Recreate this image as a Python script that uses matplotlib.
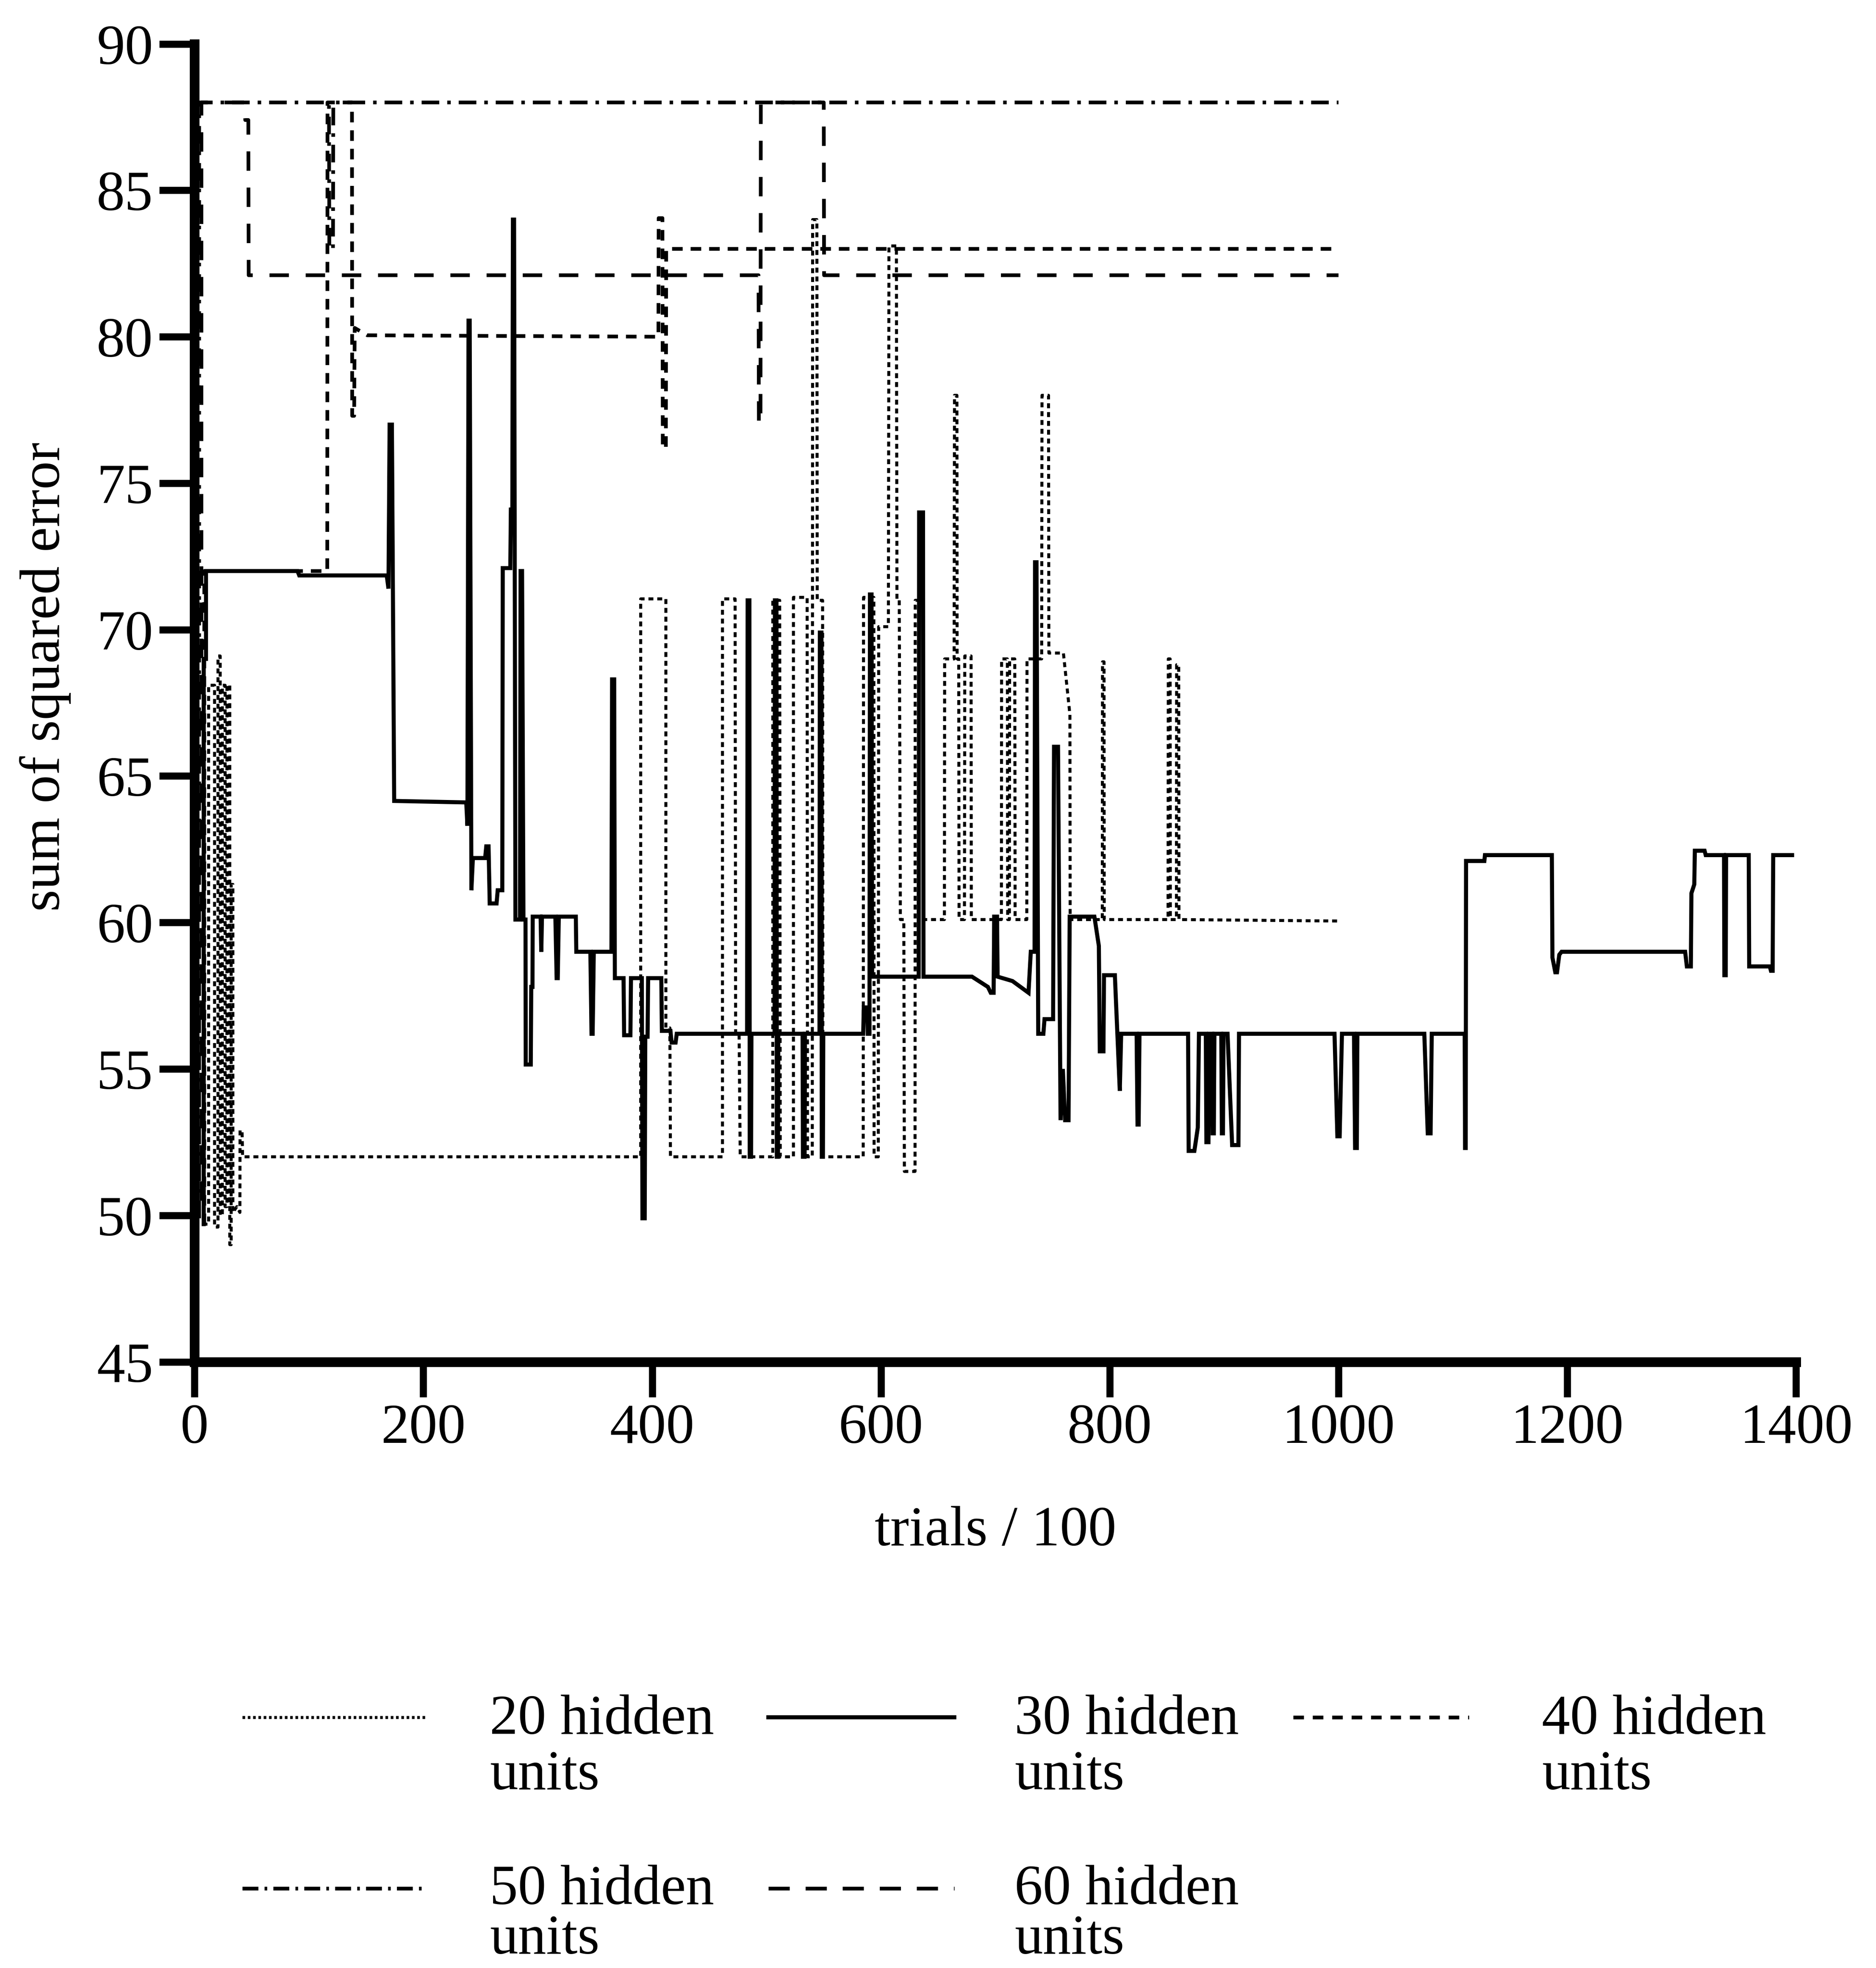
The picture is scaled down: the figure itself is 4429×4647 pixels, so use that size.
import matplotlib
matplotlib.use("Agg")
import matplotlib.pyplot as plt
from matplotlib.lines import Line2D

plt.rcParams['font.family'] = ['Liberation Serif', 'DejaVu Serif']
plt.rcParams['lines.scale_dashes'] = False

# ---------------- data ----------------
x_ticks = [0, 200, 400, 600, 800, 1000, 1200, 1400]
y_ticks = [45, 50, 55, 60, 65, 70, 75, 80, 85, 90]

x20 = [3, 3, 7.5, 7.5, 12.3, 12.3, 17.5, 17.5, 20.5, 20.5, 22.4, 22.4, 24.3, 24.3, 26.7, 26.7,
       28.3, 28.3, 30.8, 30.8, 32.0, 32.0, 33.5, 33.5, 37, 39.6, 39.8, 41.5, 42,
       390, 390, 412, 412, 415.5, 416,
       461.5, 461.5, 472.5, 473, 476, 477,
       505.5, 505.5, 511.5, 512,
       523.5, 523.5, 535.5, 535.8,
       540, 540.3, 544, 544.3, 549, 549.3,
       584.5, 584.8, 593.8, 594,
       597.7, 598, 606.5, 607, 613.5, 614, 616, 617, 620, 620.5, 629.8, 630, 632.8, 633,
       655.5, 655.7, 664, 664.3, 666.4, 666.6, 668, 668.3,
       673, 673.3, 678.8, 679,
       705.3, 705.5, 710.5, 710.8, 712.3, 712.5, 717, 717.3,
       727.5, 727.7, 740.5, 740.8, 746.5, 746.8, 759.5, 765.2, 765.4,
       793.5, 793.7, 795, 795.2,
       851, 851.2, 852.8, 853,
       858.3, 858.5, 860.3, 860.5,
       1000]
y20 = [49.7, 68.0, 68.0, 49.7, 49.7, 68.1, 68.1, 49.6, 49.6, 69.1, 69.1, 50.0, 50.0, 68.1, 68.1, 50.3,
       50.3, 68.1, 68.1, 49.0, 49.0, 61.3, 61.3, 50.1, 50.3, 50.1, 52.9, 52.9, 52.0,
       52.0, 71.05, 71.05, 56.4, 56.4, 52.0,
       52.0, 71.05, 71.05, 56.2, 56.2, 52.0,
       52.0, 71.0, 71.0, 52.0,
       52.0, 71.1, 71.1, 52.0,
       52.0, 84.0, 84.0, 71.0, 71.0, 52.0,
       52.0, 71.1, 71.1, 52.0,
       52.0, 70.1, 70.1, 83.1, 83.1, 71.0, 71.0, 60.1, 60.1, 51.5, 51.5, 71.0, 71.0, 60.1,
       60.1, 69.0, 69.0, 78.0, 78.0, 69.0, 69.0, 60.1,
       60.1, 69.1, 69.1, 60.1,
       60.1, 69.0, 69.0, 60.1, 60.1, 69.0, 69.0, 60.1,
       60.1, 69.0, 69.0, 78.0, 78.0, 69.2, 69.2, 67.1, 60.1,
       60.1, 68.9, 68.9, 60.1,
       60.1, 69.0, 69.0, 60.1,
       60.1, 68.8, 68.8, 60.1,
       60.05]

x30 = [8, 8, 10, 10, 90, 91.5, 168, 169.5, 170.5, 172.5, 174.5, 237.5, 238.5, 239.5, 240.5,
       242, 243.3, 254, 255, 257, 258, 264, 265, 269, 269.4, 276, 276.5, 277.8, 278.3, 279.3,
       280.5, 284.5, 285, 286.3, 287.5, 289.3, 289.5, 293.9, 294.3, 295.4, 295.6, 302.5, 303.1,
       303.7, 315.4, 316.5, 317.5, 318.4, 333.3, 333.7, 346, 347, 348, 349, 364.4, 365, 366.8,
       367.4, 375, 375.5, 381, 381.5, 391, 391.5, 393.5, 394, 396, 396.5, 408, 408.5, 416, 417,
       420.5, 421.5, 483, 483.5, 485, 485.3, 486.5, 486.8, 507, 507.3, 508.7, 509, 510, 510.3,
       531.5, 531.8, 533.3, 533.6, 546.3, 546.6, 548, 548.3, 549.3, 549.6, 584.5, 585, 588, 588.5,
       590, 590.4, 591.8, 592.3, 633, 633.4, 636.8, 637.2, 679.6, 693.5, 696, 698.5, 699, 701.5,
       702, 715, 729, 731, 734.3, 734.7, 736, 737.5, 742, 743, 750.5, 751.3, 754.8, 757, 759,
       761, 764, 765, 786.6, 790.5, 791.3, 794.5, 795, 804.5, 808.8, 810, 823.5, 824.3, 825.3,
       826, 868.5, 869, 874, 877, 878, 884, 884.5, 886.3, 887, 889.5, 890, 891, 891.5, 897.5,
       898, 899, 899.5, 903, 907, 912.5, 913, 996.5, 999, 1001, 1003, 1013.5, 1014.5, 1016,
       1016.5, 1075, 1078, 1080.5, 1081.5, 1110.3, 1110.6, 1111.2, 1111.5, 1127.5, 1128, 1186.5,
       1187, 1189.5, 1191, 1193, 1195, 1303, 1304.5, 1308, 1308.5, 1311, 1311.5, 1320, 1321,
       1337, 1337.3, 1338.5, 1338.8, 1358.6, 1359, 1377, 1378, 1379.5, 1380, 1396.5]
y30 = [49.7, 69.0, 69.0, 72.0, 72.0, 71.85, 71.85, 71.4, 77.0, 77.0, 64.15, 64.1, 63.3, 80.55, 80.55,
       61.1, 62.2, 62.2, 62.6, 62.6, 60.65, 60.65, 61.1, 61.1, 72.1, 72.1, 74.1, 74.1, 84.0, 84.0,
       60.1, 60.1, 72.0, 72.0, 60.1, 60.1, 55.15, 55.15, 57.8, 57.8, 60.2, 60.2, 59.0,
       60.2, 60.2, 58.1, 58.1, 60.2, 60.2, 59.0, 59.0, 56.2, 56.2, 59.0, 59.0, 68.3, 68.3,
       58.1, 58.1, 56.15, 56.15, 58.1, 58.1, 49.9, 49.9, 56.1, 56.1, 58.1, 58.1, 56.3, 56.3, 55.9,
       55.9, 56.2, 56.2, 71.0, 71.0, 52.0, 52.0, 56.2, 56.2, 71.0, 71.0, 52.0, 52.0, 56.2,
       56.2, 52.0, 52.0, 56.2, 56.2, 69.9, 69.9, 52.0, 52.0, 56.2, 56.2, 57.1, 57.1, 56.2,
       56.2, 71.2, 71.2, 58.15, 58.15, 74.0, 74.0, 58.15, 58.15, 57.8, 57.6, 57.6, 60.2, 60.2,
       58.15, 58.0, 57.6, 59.0, 59.0, 72.3, 72.3, 56.2, 56.2, 56.7, 56.7, 66.0, 66.0, 53.25, 55.0,
       53.25, 53.25, 60.2, 60.2, 59.2, 55.6, 55.6, 58.2, 58.2, 54.25, 56.2, 56.2, 53.1, 53.1,
       56.2, 56.2, 52.2, 52.2, 53.0, 56.2, 56.2, 52.5, 52.5, 56.2, 56.2, 52.8, 52.8, 56.2, 56.2,
       52.8, 52.8, 56.2, 56.2, 52.4, 52.4, 56.2, 56.2, 52.7, 52.7, 56.2, 56.2, 52.3, 52.3,
       56.2, 56.2, 52.8, 52.8, 56.2, 56.2, 52.3, 52.3, 62.1, 62.1, 62.3, 62.3,
       58.8, 58.3, 58.3, 58.9, 59.0, 59.0, 58.5, 58.5, 61.0, 61.3, 62.45, 62.45, 62.3,
       62.3, 58.2, 58.2, 62.3, 62.3, 58.5, 58.5, 58.35, 58.35, 62.3, 62.3]

x40 = [8.5, 8.5, 116, 116.2, 137.6, 137.8, 139.5, 140, 151, 405.5, 405.7, 409, 409.3, 412, 412.3, 1000]
y40 = [49.7, 72.0, 72.0, 88.0, 88.0, 77.3, 77.3, 80.3, 80.05, 80.0, 84.05, 84.05, 76.2, 76.2, 83.0, 83.0]

x50 = [4, 4, 117.5, 117.8, 121, 121.3, 1000]
y50 = [49.9, 88.0, 88.0, 83.0, 83.0, 88.0, 88.0]

x60 = [6, 6, 44, 44.3, 47, 47.3, 493, 493.3, 494.7, 495, 550, 550.3, 1000]
y60 = [50.5, 88.0, 88.0, 87.4, 87.4, 82.1, 82.1, 77.0, 77.0, 88.0, 88.0, 82.1, 82.1]

series_labels = ["20 hidden\nunits", "30 hidden\nunits", "40 hidden\nunits",
                 "50 hidden\nunits", "60 hidden\nunits"]

# ---------------- styles ----------------
styles = [
    dict(lw=1.7, ls=(0, (2.8, 2.2))),          # 20 hidden: fine dotted
    dict(lw=2.3, ls='-'),                       # 30 hidden: solid
    dict(lw=2.1, ls=(0, (6.0, 4.5))),          # 40 hidden: short dashes
    dict(lw=2.1, ls=(0, (10, 4.5, 2, 4.5))),   # 50 hidden: dash-dot
    dict(lw=2.1, ls=(0, (11, 9.5))),           # 60 hidden: long dashes
]
legend_styles = [
    dict(lw=1.7, ls=(0, (1.5, 1.5))),
    dict(lw=2.3, ls='-'),
    dict(lw=2.1, ls=(0, (6.0, 5.0))),
    dict(lw=2.1, ls=(0, (9, 3.5, 1.5, 3.5))),
    dict(lw=2.1, ls=(0, (12, 9))),
]

W, H, DPI = 4429, 4647, 300
fig = plt.figure(figsize=((W + 0.5) / DPI, (H + 0.5) / DPI), dpi=DPI)
ax = fig.add_axes([0.1037, 0.308, 0.8536, 0.6696])

xs = [x20, x30, x40, x50, x60]
ys = [y20, y30, y40, y50, y60]
for x, y, st in zip(xs, ys, styles):
    ax.plot(x, y, color='black', linewidth=st['lw'], linestyle=st['ls'],
            dash_capstyle='butt', solid_joinstyle='miter')

ax.set_xlim(0, 1400)
ax.set_ylim(45, 90)
ax.set_xticks(x_ticks)
ax.set_yticks(y_ticks)
ax.set_xticklabels([str(v) for v in x_ticks])
ax.set_yticklabels([str(v) for v in y_ticks])
for s in ['top', 'right']:
    ax.spines[s].set_visible(False)
for s in ['left', 'bottom']:
    ax.spines[s].set_linewidth(5.5)
ax.tick_params(axis='both', direction='out', length=20, width=4.0, labelsize=32, pad=3.4,
               color='black', labelcolor='black')

ax.set_xlabel("trials / 100", fontsize=32)
ax.xaxis.label.set_va('center')
ax.xaxis.set_label_coords(0.5, -0.1286)
ax.set_ylabel("sum of squared error", fontsize=32)
ax.yaxis.label.set_va('center')
ax.yaxis.set_label_coords(-0.0932, 0.52)

# ---------------- legend (manual, two rows x three columns) ----------------
line_x = [(0.1292, 0.2275), (0.4096, 0.5087), (0.6893, 0.7830),
          (0.1292, 0.2275), (0.4096, 0.5087)]
line_y = [0.1274, 0.1274, 0.1274, 0.0405, 0.0405]
text_x = [0.2610, 0.5408, 0.8218, 0.2610, 0.5408]
text_y1 = [0.1192, 0.1192, 0.1192, 0.0325, 0.0325]
text_y2 = [0.0910, 0.0910, 0.0910, 0.0075, 0.0075]
for i, lab in enumerate(series_labels):
    st = legend_styles[i]
    fig.add_artist(Line2D(line_x[i], [line_y[i], line_y[i]], transform=fig.transFigure,
                          color='black', linewidth=st['lw'], linestyle=st['ls'],
                          dash_capstyle='butt'))
    first, second = lab.split("\n")
    fig.text(text_x[i], text_y1[i], first, fontsize=32, ha='left', va='baseline')
    fig.text(text_x[i], text_y2[i], second, fontsize=32, ha='left', va='baseline')

fig.savefig("out.png", dpi=DPI, facecolor='white')
